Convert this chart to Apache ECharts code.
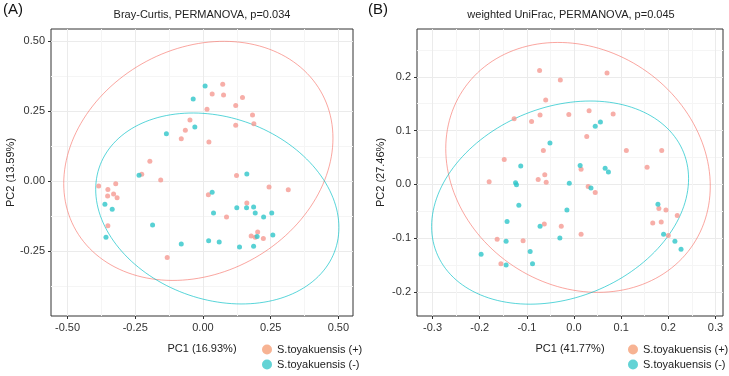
<!DOCTYPE html>
<html>
<head>
<meta charset="utf-8">
<script src="https://cdn.jsdelivr.net/npm/echarts@6/dist/echarts.min.js"></script>
<style>
  html, body { margin: 0; padding: 0; background: #fff; }
  #chart { width: 729px; height: 376px; }
</style>
</head>
<body>
<div id="chart"></div>
<script>
// 数据：PCoA 坐标 (A: Bray-Curtis, B: weighted UniFrac)
var legendNames = ['S.toyakuensis (+)', 'S.toyakuensis (-)'];

var aPos = [[0.073,0.346],[0.034,0.311],[0.076,0.307],[0.146,0.298],[0.121,0.270],[0.015,0.256],
  [0.183,0.236],[-0.048,0.218],[0.188,0.205],[0.121,0.199],[-0.065,0.181],[-0.080,0.151],
  [0.022,0.139],[-0.196,0.071],[-0.226,0.024],[-0.156,0.004],[0.124,0.020],[-0.385,-0.018],
  [-0.351,-0.030],[-0.322,-0.010],[-0.352,-0.053],[-0.330,-0.046],[-0.317,-0.060],[-0.351,-0.160],
  [0.244,-0.021],[0.315,-0.031],[0.020,-0.049],[0.087,-0.128],[0.162,-0.078],[0.202,-0.182],
  [0.178,-0.196],[0.193,-0.201],[0.223,-0.205],[-0.132,-0.273]];
var aNeg = [[0.008,0.339],[-0.036,0.293],[-0.030,0.193],[-0.135,0.169],[-0.236,0.021],[0.162,0.025],
  [-0.362,-0.083],[-0.335,-0.101],[-0.358,-0.201],[-0.186,-0.157],[0.034,-0.040],[0.039,-0.114],
  [0.125,-0.095],[0.161,-0.095],[0.187,-0.093],[0.193,-0.114],[0.224,-0.128],[0.254,-0.114],
  [0.200,-0.198],[0.258,-0.193],[-0.080,-0.225],[0.021,-0.213],[0.060,-0.218],[0.135,-0.236],
  [0.187,-0.233]];

var bPos = [[-0.073,0.212],[-0.029,0.194],[0.070,0.207],[-0.060,0.157],[-0.127,0.122],[-0.072,0.129],
  [-0.090,0.117],[-0.011,0.130],[0.032,0.137],[0.083,0.131],[0.027,0.089],[-0.065,0.063],
  [0.111,0.063],[0.186,0.063],[-0.148,0.046],[0.155,0.032],[0.015,0.028],[-0.180,0.005],
  [-0.076,0.009],[-0.062,0.018],[-0.059,0.004],[0.030,-0.004],[0.045,-0.015],[-0.063,-0.074],
  [-0.027,-0.078],[0.015,-0.093],[-0.163,-0.102],[-0.108,-0.105],[-0.155,-0.148],[0.180,-0.045],
  [0.195,-0.048],[0.219,-0.058],[0.167,-0.072],[0.185,-0.070],[0.200,-0.095]];
var bNeg = [[0.056,0.116],[0.045,0.108],[-0.051,0.077],[-0.113,0.034],[0.013,0.035],[0.066,0.030],
  [0.073,0.023],[-0.124,0.003],[-0.122,-0.001],[-0.010,0.002],[0.036,-0.007],[-0.117,-0.039],
  [-0.015,-0.048],[-0.142,-0.069],[-0.072,-0.078],[-0.030,-0.100],[-0.144,-0.106],[-0.093,-0.125],
  [-0.197,-0.130],[-0.144,-0.150],[-0.088,-0.148],[0.178,-0.037],[0.190,-0.093],[0.214,-0.106],
  [0.227,-0.121]];

// 置信椭圆: [中心x, 中心y, x半径, y半径, 相关系数]
var ellAPos = [-0.017, 0.072, 0.497, 0.427, 0.19];
var ellANeg = [0.053, -0.098, 0.449, 0.341, -0.20];
var ellBPos = [0.0085, 0.0315, 0.2805, 0.2325, -0.15];
var ellBNeg = [-0.0295, -0.034, 0.2725, 0.189, 0.235];

// 刻度
var xTicksA = [-0.5, -0.25, 0, 0.25, 0.5];
var yTicksA = [-0.25, 0, 0.25, 0.5];
var xTicksB = [-0.3, -0.2, -0.1, 0, 0.1, 0.2, 0.3];
var yTicksB = [-0.2, -0.1, 0, 0.1, 0.2];

(function () {
  var myChart = echarts.init(document.getElementById('chart'));
  var font = '"Liberation Sans", Arial, sans-serif';
  var posColor = '#F59A92', negColor = '#2EC6C9';

  function ellipsePath(e) {
    var pts = [];
    for (var k = 0; k <= 160; k++) {
      var t = 2 * Math.PI * k / 160;
      pts.push([e[0] + e[2] * Math.cos(t),
                e[1] + e[3] * (e[4] * Math.cos(t) + Math.sqrt(1 - e[4] * e[4]) * Math.sin(t))]);
    }
    return pts;
  }

  // 主网格线 + 次网格线 (大刻度之间的中点)
  function gridValues(ticks, min, max) {
    var step = (ticks[1] - ticks[0]) / 2;
    var vals = [];
    var start = ticks[0] - step * Math.ceil((ticks[0] - min) / step);
    for (var v = start; v <= max + 1e-9; v += step) {
      if (v >= min - 1e-9) vals.push(Math.round(v * 1000) / 1000);
    }
    return vals;
  }
  function gridColors(ticks, vals) {
    var isMajor = ticks.some(function (t) { return Math.abs(t - vals[0]) < 1e-6; });
    return isMajor ? ['#EBEBEB', '#F5F5F5'] : ['#F5F5F5', '#EBEBEB'];
  }

  function mainAxis(grid, min, max, ticks, digits, name, gap, isY) {
    return {
      type: 'value', gridIndex: grid, min: min, max: max,
      position: isY ? 'left' : 'bottom',
      name: name, nameLocation: 'middle', nameGap: gap, nameRotate: isY ? 90 : 0,
      nameTextStyle: { color: '#222', fontSize: 11, fontFamily: font },
      axisLine: { show: false, onZero: false },
      axisTick: { show: true, inside: false, length: 3, customValues: ticks,
                  lineStyle: { color: '#333', width: 1 } },
      axisLabel: { customValues: ticks, margin: 6, color: '#333', fontSize: 11, fontFamily: font,
                   formatter: function (v) { return (+v).toFixed(digits); } },
      splitLine: { show: false }
    };
  }
  function helperAxis(grid, min, max, ticks, isY) {
    var vals = gridValues(ticks, min, max);
    return {
      type: 'value', gridIndex: grid, min: min, max: max,
      position: isY ? 'right' : 'top',
      axisLine: { show: false, onZero: false }, axisLabel: { show: false },
      axisTick: { show: false, customValues: vals },
      splitLine: { show: true, lineStyle: { color: gridColors(ticks, vals), width: 1 } }
    };
  }

  var option = {
    animation: false,
    textStyle: { fontFamily: font },
    grid: [
      { left: 51, top: 29, width: 302, height: 287, show: true, borderColor: '#333', borderWidth: 1, backgroundColor: '#fff' },
      { left: 417, top: 29, width: 306, height: 287, show: true, borderColor: '#333', borderWidth: 1, backgroundColor: '#fff' }
    ],
    xAxis: [
      mainAxis(0, -0.561, 0.554, xTicksA, 2, 'PC1 (16.93%)', 27, false),
      helperAxis(0, -0.561, 0.554, xTicksA, false),
      mainAxis(1, -0.333, 0.316, xTicksB, 1, 'PC1 (41.77%)', 27, false),
      helperAxis(1, -0.333, 0.316, xTicksB, false)
    ],
    yAxis: [
      mainAxis(0, -0.482, 0.543, yTicksA, 2, 'PC2 (13.59%)', 32, true),
      helperAxis(0, -0.482, 0.543, yTicksA, true),
      mainAxis(1, -0.245, 0.289, yTicksB, 1, 'PC2 (27.46%)', 31, true),
      helperAxis(1, -0.245, 0.289, yTicksB, true)
    ],
    legend: [
      { orient: 'vertical', left: 257, top: 339, itemWidth: 10, itemHeight: 10, itemGap: 4,
        icon: 'circle', textStyle: { color: '#222', fontSize: 11 },
        data: [{ name: legendNames[0], itemStyle: { color: '#F5A078' } },
               { name: legendNames[1], itemStyle: { color: '#3CC8CA' } }] },
      { orient: 'vertical', left: 623, top: 339, itemWidth: 10, itemHeight: 10, itemGap: 4,
        icon: 'circle', textStyle: { color: '#222', fontSize: 11 },
        data: [{ name: legendNames[0], itemStyle: { color: '#F5A078' } },
               { name: legendNames[1], itemStyle: { color: '#3CC8CA' } }] }
    ],
    graphic: [
      { type: 'text', x: 3, y: 10, style: { text: '(A)', fontSize: 15, fontFamily: font, fill: '#111', align: 'left', verticalAlign: 'middle' } },
      { type: 'text', x: 368, y: 10, style: { text: '(B)', fontSize: 15, fontFamily: font, fill: '#111', align: 'left', verticalAlign: 'middle' } },
      { type: 'text', x: 202, y: 15, style: { text: 'Bray-Curtis, PERMANOVA, p=0.034', fontSize: 11, fontFamily: font, fill: '#222', align: 'center', verticalAlign: 'middle' } },
      { type: 'text', x: 571, y: 15, style: { text: 'weighted UniFrac, PERMANOVA, p=0.045', fontSize: 11, fontFamily: font, fill: '#222', align: 'center', verticalAlign: 'middle' } }
    ],
    series: [
      { name: 'ellA+', type: 'line', xAxisIndex: 0, yAxisIndex: 0, data: ellipsePath(ellAPos), showSymbol: false, symbol: 'none', silent: true,
        lineStyle: { color: '#F8766D', width: 1, opacity: 0.65 }, z: 2 },
      { name: 'ellA-', type: 'line', xAxisIndex: 0, yAxisIndex: 0, data: ellipsePath(ellANeg), showSymbol: false, symbol: 'none', silent: true,
        lineStyle: { color: '#00BFC4', width: 1, opacity: 0.65 }, z: 2 },
      { name: 'ellB+', type: 'line', xAxisIndex: 2, yAxisIndex: 2, data: ellipsePath(ellBPos), showSymbol: false, symbol: 'none', silent: true,
        lineStyle: { color: '#F8766D', width: 1, opacity: 0.65 }, z: 2 },
      { name: 'ellB-', type: 'line', xAxisIndex: 2, yAxisIndex: 2, data: ellipsePath(ellBNeg), showSymbol: false, symbol: 'none', silent: true,
        lineStyle: { color: '#00BFC4', width: 1, opacity: 0.65 }, z: 2 },
      { name: legendNames[0], type: 'scatter', xAxisIndex: 0, yAxisIndex: 0, data: aPos, symbolSize: 5,
        itemStyle: { color: posColor }, z: 3 },
      { name: legendNames[1], type: 'scatter', xAxisIndex: 0, yAxisIndex: 0, data: aNeg, symbolSize: 5,
        itemStyle: { color: negColor }, z: 3 },
      { name: legendNames[0], type: 'scatter', xAxisIndex: 2, yAxisIndex: 2, data: bPos, symbolSize: 5,
        itemStyle: { color: posColor }, z: 3 },
      { name: legendNames[1], type: 'scatter', xAxisIndex: 2, yAxisIndex: 2, data: bNeg, symbolSize: 5,
        itemStyle: { color: negColor }, z: 3 }
    ]
  };

  myChart.setOption(option);
  window.addEventListener('resize', function () {
    myChart.resize();
  });
})();
</script>
</body>
</html>
